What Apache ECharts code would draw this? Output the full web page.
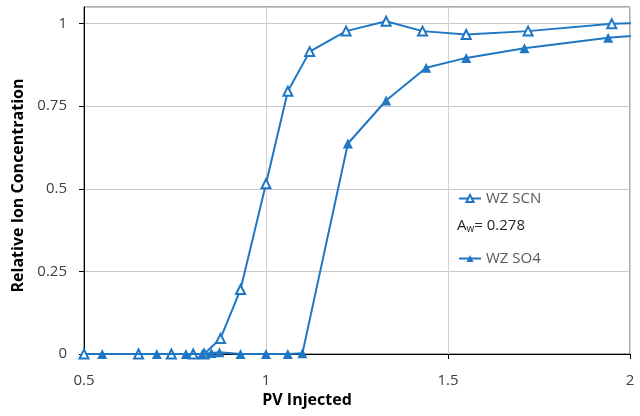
<!DOCTYPE html>
<html>
<head>
<meta charset="utf-8">
<script src="https://cdn.jsdelivr.net/npm/echarts@6/dist/echarts.min.js"></script>
<style>
  html, body { margin: 0; padding: 0; background: #fff; }
  #chart { width: 640px; height: 416px; }
</style>
</head>
<body>
<div id="chart"></div>
<script>
// Breakthrough curves: relative ion concentration vs pore volumes injected
const scnPV   = [0.5, 0.65, 0.74, 0.80, 0.83, 0.875, 0.93, 1.0, 1.06, 1.12, 1.22, 1.33, 1.43, 1.55, 1.72, 1.95, 2.1];
const scnConc = [0, 0, 0, 0, 0, 0.047, 0.195, 0.515, 0.795, 0.915, 0.977, 1.007, 0.977, 0.967, 0.977, 0.999, 1.004];

const so4PV   = [0.55, 0.70, 0.78, 0.825, 0.85, 0.872, 0.93, 1.0, 1.06, 1.10, 1.225, 1.33, 1.44, 1.55, 1.71, 1.94, 2.1];
const so4Conc = [0, 0, 0, 0, 0.003, 0.005, 0, 0, 0, 0.002, 0.637, 0.767, 0.866, 0.896, 0.925, 0.957, 0.97];

const xTicks = [0.5, 1, 1.5, 2];
const yTicks = [0, 0.25, 0.5, 0.75, 1];

const legendNames = ['WZ SCN', 'WZ SO4'];

const pairs = (xs, ys) => xs.map((x, i) => [x, ys[i]]);

const blue = '#1f77c4';
const font = '"Open Sans", "Liberation Sans", sans-serif';

const chart = echarts.init(document.getElementById('chart'), null, { renderer: 'canvas' });

const legendBase = {
  itemWidth: 22, itemHeight: 9, itemGap: 3,
  textStyle: { fontFamily: font, fontSize: 15, color: '#595959' }
};

chart.setOption({
  animation: false,
  backgroundColor: '#fff',
  grid: {
    left: 84, right: 10, top: 7, bottom: 62,
    show: true, borderColor: '#595959', borderWidth: 1
  },
  legend: [
    Object.assign({ data: [legendNames[0]], left: 453, top: 186 }, legendBase),
    Object.assign({ data: [legendNames[1]], left: 453, top: 246 }, legendBase)
  ],
  graphic: [{
    type: 'text',
    left: 457, top: 218,
    style: {
      text: '{a|A}{s|w}{a|= 0.278}',
      rich: {
        a: { fontFamily: font, fontSize: 15, fill: '#262626' },
        s: { fontFamily: font, fontSize: 10, fill: '#262626', padding: [8, 0, 0, 0] }
      }
    }
  }],
  xAxis: {
    type: 'value',
    min: xTicks[0], max: xTicks[xTicks.length - 1], interval: 0.5,
    name: 'PV Injected',
    nameLocation: 'middle', nameGap: 36,
    nameTextStyle: { fontFamily: font, fontSize: 16, fontWeight: 'bold', color: '#000', padding: [0, 100, 0, 0] },
    axisLine: { onZero: false, lineStyle: { color: '#000', width: 1 } },
    axisTick: { show: true, length: 5, lineStyle: { color: '#000' } },
    axisLabel: {
      margin: 19, fontFamily: font, fontSize: 15, color: '#404040',
      formatter: v => xTicks.includes(+v.toFixed(2)) ? String(v) : ''
    },
    splitLine: { show: true, lineStyle: { color: '#d0d0d0', width: 1 } }
  },
  yAxis: {
    type: 'value',
    min: 0, max: 1.05, interval: 0.25,
    name: 'Relative Ion Concentration',
    nameLocation: 'middle', nameGap: 56,
    nameTextStyle: { fontFamily: font, fontSize: 16, fontWeight: 'bold', color: '#000', padding: [0, 10, 0, 0] },
    axisLine: { show: true, lineStyle: { color: '#000', width: 1 } },
    axisTick: { show: true, length: 5, lineStyle: { color: '#000' } },
    axisLabel: {
      margin: 17, fontFamily: font, fontSize: 15, color: '#404040',
      showMaxLabel: false,
      formatter: v => yTicks.includes(+v.toFixed(2)) ? String(v) : ''
    },
    splitLine: { show: true, lineStyle: { color: '#c8c8c8', width: 1 } }
  },
  series: [
    {
      name: legendNames[0],
      type: 'line',
      data: pairs(scnPV, scnConc),
      symbol: 'emptyTriangle',
      symbolSize: 9,
      lineStyle: { color: blue, width: 2 },
      itemStyle: { color: blue, borderColor: blue, borderWidth: 1.5 },
      z: 3
    },
    {
      name: legendNames[1],
      type: 'line',
      data: pairs(so4PV, so4Conc),
      symbol: 'triangle',
      symbolSize: 10,
      lineStyle: { color: blue, width: 2 },
      itemStyle: { color: blue },
      z: 4
    }
  ]
});
</script>
</body>
</html>
